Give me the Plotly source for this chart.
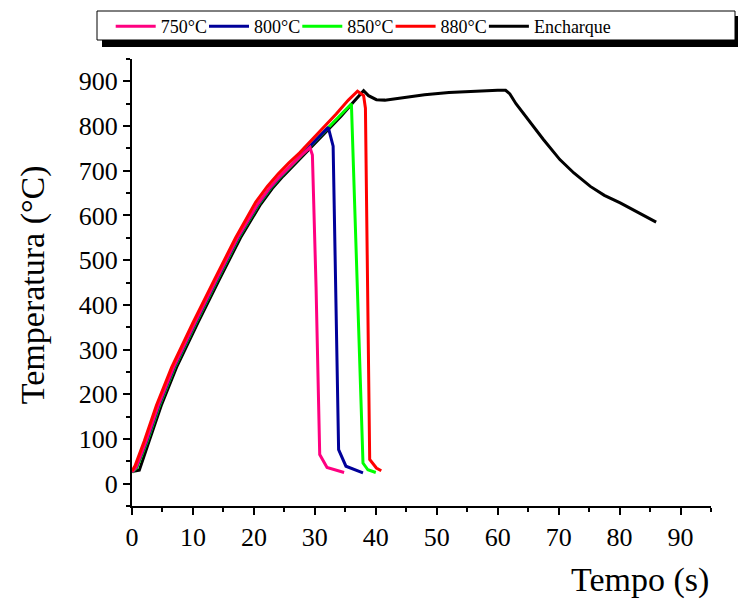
import plotly.graph_objects as go

# ---- data ----
t_750 = [0, 0.7, 2.3, 4.3, 6.8, 10.3, 13.8, 17.3, 20.6, 22.5, 24.3, 26.0, 27.8, 29.2, 29.6, 30.2, 30.8, 32.0, 34.8]
T_750 = [26, 38, 95, 175, 260, 360, 456, 550, 625, 660, 688, 712, 735, 752, 735, 440, 65, 36, 25]

t_800 = [0, 0.7, 2.4, 4.4, 6.9, 10.4, 13.9, 17.4, 20.7, 22.6, 24.4, 26.1, 27.9, 30.0, 32.2, 33.0, 33.9, 35.1, 37.9]
T_800 = [26, 37, 95, 175, 260, 360, 456, 550, 625, 660, 688, 712, 735, 765, 797, 755, 76, 39, 24]

t_850 = [0, 0.8, 2.5, 4.5, 7.0, 10.5, 14.0, 17.5, 20.8, 22.7, 24.5, 26.2, 28.0, 30.1, 32.0, 34.0, 36.0, 37.9, 38.7, 40.0]
T_850 = [25, 36, 95, 175, 260, 360, 456, 550, 625, 660, 688, 712, 735, 765, 792, 822, 850, 46, 31, 25]

t_880 = [0, 0.5, 2.0, 4.0, 6.5, 10.0, 13.5, 17.0, 20.3, 22.2, 24.0, 25.7, 27.5, 29.6, 31.5, 33.5, 35.5, 37.0, 38.0, 38.3, 39.0, 40.1, 40.9]
T_880 = [28, 40, 95, 175, 260, 360, 456, 550, 630, 665, 693, 717, 740, 770, 797, 827, 858, 878, 868, 840, 54, 35, 29]

t_enc = [0, 1.2, 2.8, 4.8, 7.3, 10.8, 14.3, 17.8, 21.1, 23.0, 24.8, 26.5, 28.3, 30.4, 32.3, 34.3, 36.3, 38.0, 38.8, 40.1,
         41.5, 44, 48, 52, 56, 60, 61.3, 62, 63, 65.3, 67.5, 70.2, 72.5, 75.2, 77.5, 80.1, 83, 86]
T_enc = [27, 30, 95, 175, 260, 360, 456, 550, 625, 660, 688, 712, 735, 765, 792, 822, 853, 879, 868, 859,
         858, 863, 870, 875, 878, 880, 880, 872, 850, 808, 770, 725, 695, 665, 645, 628, 607, 585]

x_ticks = [0, 10, 20, 30, 40, 50, 60, 70, 80, 90]
y_ticks = [0, 100, 200, 300, 400, 500, 600, 700, 800, 900]

series = [
    ("Encharque", t_enc, T_enc, "#000000"),
    ("850°C", t_850, T_850, "#00ff00"),
    ("800°C", t_800, T_800, "#000099"),
    ("750°C", t_750, T_750, "#ff0080"),
    ("880°C", t_880, T_880, "#ff0000"),
]
legend_rank = {"750°C": 1, "800°C": 2, "850°C": 3, "880°C": 4, "Encharque": 5}

FONT = "Liberation Serif"
W, H = 738, 601
L, R, T, B = 132, 27, 59, 95

fig = go.Figure()
for name, t, Tv, c in series:
    fig.add_trace(go.Scatter(x=t, y=Tv, mode="lines", name=name,
                             line=dict(color=c, width=3),
                             legendrank=legend_rank[name]))
# empty spacer entry so the last legend label is not clipped
fig.add_trace(go.Scatter(x=[None], y=[None], mode="lines", name=" ",
                         line=dict(color="rgba(0,0,0,0)", width=3),
                         legendrank=6, hoverinfo="skip"))

tickfont = dict(family=FONT, size=26, color="black")
fig.update_layout(
    width=W, height=H,
    margin=dict(l=L, r=R, t=T, b=B, autoexpand=False),
    paper_bgcolor="white", plot_bgcolor="white",
    font=dict(family=FONT, color="black", size=18),
    showlegend=True,
    legend=dict(orientation="h", x=110.7 / W, xanchor="left", y=1 - 8 / H, yanchor="top",
                xref="container", yref="container",
                font=dict(family=FONT, size=18, color="black"),
                bgcolor="rgba(0,0,0,0)", borderwidth=0,
                entrywidth=38.3, entrywidthmode="pixels", itemwidth=40,
                traceorder="normal"),
    xaxis=dict(range=[0, 95], tickvals=x_ticks, ticks="outside", ticklen=7, tickwidth=2,
               tickcolor="black", showline=True, linewidth=2, linecolor="black",
               showgrid=False, zeroline=False, tickfont=tickfont,
               minor=dict(dtick=5, tick0=0, ticks="outside", ticklen=4, tickwidth=2, tickcolor="black")),
    yaxis=dict(range=[-50, 950], tickvals=y_ticks, ticks="outside", ticklen=7, tickwidth=2,
               tickcolor="black", showline=True, linewidth=2, linecolor="black",
               showgrid=False, zeroline=False, tickfont=tickfont,
               minor=dict(dtick=50, tick0=0, ticks="outside", ticklen=4, tickwidth=2, tickcolor="black")),
)

fig.add_annotation(text="Tempo (s)", xref="paper", yref="paper", x=1.0, y=-0.165,
                   xanchor="right", yanchor="middle", showarrow=False,
                   font=dict(family=FONT, size=34, color="black"))
fig.add_annotation(text="Temperatura (°C)", xref="paper", yref="paper", x=-0.172, y=0.495,
                   xanchor="center", yanchor="middle", textangle=-90, showarrow=False,
                   font=dict(family=FONT, size=34, color="black"))

# legend frame with drop shadow
def px(x):
    return (x - L) / (W - L - R)
def py(y):
    return (H - B - y) / (H - T - B)
fig.add_shape(type="rect", xref="paper", yref="paper",
              x0=px(102), x1=px(745), y0=py(47), y1=py(16),
              fillcolor="black", line=dict(width=0), layer="above")
fig.add_shape(type="rect", xref="paper", yref="paper",
              x0=px(97), x1=px(735), y0=py(40), y1=py(11),
              fillcolor="white", line=dict(width=1, color="black"), layer="above")

fig.write_html("out.html")
